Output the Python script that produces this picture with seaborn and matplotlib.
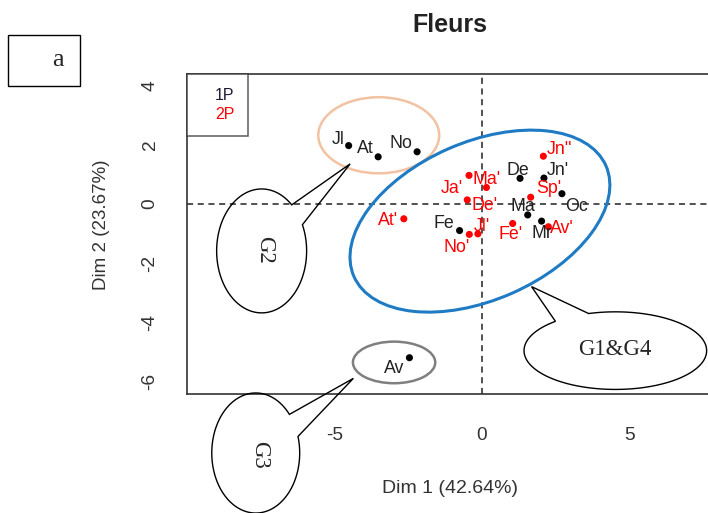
import numpy as np
import pandas as pd
import matplotlib
matplotlib.use("Agg")
import matplotlib.pyplot as plt
import seaborn as sns
from matplotlib.patches import Ellipse, Polygon, Rectangle
from matplotlib.lines import Line2D

# ---------------- data ----------------
labels_1p = ["Jl", "At", "No", "De", "Jn'", "Oc", "Ma", "Mr", "Fe", "Av"]
dim1_1p = [-4.52, -3.52, -2.20, 1.29, 2.10, 2.71, 1.55, 2.02, -0.76, -2.46]
dim2_1p = [1.98, 1.60, 1.77, 0.87, 0.88, 0.35, -0.37, -0.58, -0.90, -5.21]

labels_2p = ["Jn''", "Ma'", "Ja'", "De'", "Sp'", "At'", "Fe'", "Av'", "No'", "Jl'"]
dim1_2p = [2.08, 0.15, -0.44, -0.50, 1.65, -2.65, 1.04, 2.25, -0.43, -0.14]
dim2_2p = [1.62, 0.56, 0.97, 0.14, 0.23, -0.50, -0.66, -0.77, -1.03, -1.01]

groups = ["1P", "2P"]
x_ticks = [-5, 0, 5]
y_ticks = [-6, -4, -2, 0, 2, 4]

# label placement (offset of label centre from its point, in pixels)
LABEL_OFFSETS = {
    "Jl": (-10, 6), "At": (-13, 8), "No": (-16, 8), "De": (-2, 8),
    "Jn'": (14, 8), "Oc": (15, -13), "Ma": (-5, 8), "Mr": (0, -12),
    "Fe": (-16, 7), "Av": (-15, -11),
    "Jn''": (16, 7), "Ma'": (0, 8), "Ja'": (-17, -13), "De'": (17, -6),
    "Sp'": (18, 9), "At'": (-16, -2), "Fe'": (-2, -11), "Av'": (13, -2),
    "No'": (-13, -13), "Jl'": (4, 7),
}

df = pd.DataFrame({
    "dim1": dim1_1p + dim1_2p,
    "dim2": dim2_1p + dim2_2p,
    "label": labels_1p + labels_2p,
    "group": [groups[0]] * len(labels_1p) + [groups[1]] * len(labels_2p),
})
palette = {"1P": "black", "2P": "#ff0000"}

# ---------------- style ----------------
sns.set_style("white")
plt.rcParams["font.family"] = ["Liberation Sans", "DejaVu Sans"]

W, H = 708, 513
fig = plt.figure(figsize=(W / 100, H / 100), dpi=100)
ax = fig.add_axes([187 / W, (H - 394) / H, (711 - 187) / W, 320 / H])

ax.set_xlim(-10.0, 7.763)
ax.set_ylim(-6.44, 4.407)

# reference lines
ax.axhline(0, color="#222222", lw=1.1, ls=(0, (4, 3)), zorder=1)
ax.axvline(0, color="#222222", lw=1.1, ls=(0, (4, 3)), zorder=1)

sns.scatterplot(data=df, x="dim1", y="dim2", hue="group", palette=palette,
                s=26, linewidth=0, legend=False, ax=ax, zorder=4)

for _, r in df.iterrows():
    dx, dy = LABEL_OFFSETS[r["label"]]
    ax.annotate(r["label"], (r["dim1"], r["dim2"]), xytext=(dx, dy),
                textcoords="offset pixels", ha="center", va="center",
                fontsize=12.8, color=palette[r["group"]] if r["group"] == "2P" else "#222222",
                zorder=5)

# group ellipses
ax.add_patch(Ellipse((-3.50, 2.33), 4.10, 2.58, fill=False, ec="#f2c2a2", lw=1.8, zorder=2))
ax.add_patch(Ellipse((-0.07, -0.58), 9.33, 5.35, angle=23.7, fill=False, ec="#1f7bc4", lw=2.2, zorder=2))
ax.add_patch(Ellipse((-2.98, -5.37), 2.79, 1.41, fill=False, ec="#7f7f7f", lw=1.8, zorder=2))


def callout(cx, cy, w, h, gap_a, gap_b, tip):
    t = np.radians(np.linspace(gap_b, gap_a + 360, 240))
    pts = np.column_stack([cx + w / 2 * np.cos(t), cy + h / 2 * np.sin(t)])
    pts = np.vstack([pts, tip])
    ax.add_patch(Polygon(pts, closed=True, fill=False, ec="black", lw=1.0,
                         clip_on=False, zorder=6))


callout(-7.47, -1.59, 3.05, 4.20, 25, 48, (-4.47, 1.36))
callout(-7.67, -8.44, 2.98, 4.07, 16, 40, (-4.36, -5.91))
callout(4.52, -4.97, 6.19, 2.63, 107, 131, (1.68, -2.80))

serif = ["Liberation Serif", "DejaVu Serif"]
ax.text(-7.36, -1.56, "G2", rotation=270, ha="center", va="center",
        fontsize=16.5, family=serif, clip_on=False, zorder=6)
ax.text(-7.53, -8.51, "G3", rotation=270, ha="center", va="center",
        fontsize=16.5, family=serif, clip_on=False, zorder=6)
ax.text(4.51, -4.92, "G1&G4", ha="center", va="center",
        fontsize=16.5, family=serif, clip_on=False, zorder=6)

# axes, ticks
ax.set_xticks(x_ticks)
ax.set_yticks(y_ticks)
ax.set_xticklabels([str(v) for v in x_ticks])
ax.set_yticklabels([str(v) for v in y_ticks], rotation=90, va="center")
ax.tick_params(axis="both", direction="out", length=8.5, width=1.1,
               color="#333333", labelsize=13.8, labelcolor="#333333")
ax.tick_params(axis="x", pad=15)
ax.tick_params(axis="y", pad=12)
for s in ax.spines.values():
    s.set_color("#333333")
    s.set_linewidth(1.2)

ax.set_xlabel("Dim 1 (42.64%)", fontsize=14, color="#333333", va="center")
ax.xaxis.set_label_coords(0.502, -0.295)
ax.set_ylabel("Dim 2 (23.67%)", fontsize=13.5, color="#333333", va="center")
ax.yaxis.set_label_coords(-0.163, 0.53)

# legend
handles = [Line2D([], [], linestyle="none") for _ in groups]
leg = ax.legend(handles, groups, loc="upper left", frameon=True, fancybox=False,
                edgecolor="#333333", borderaxespad=0, handlelength=0.7,
                handletextpad=0.2, borderpad=0.85, labelspacing=0.3,
                fontsize=11.5, labelcolor=["#1a1a33", "#ff0000"])
leg.get_frame().set_linewidth(1.1)

# title
fig.text(450 / W, 1 - 25 / H, "Fleurs", ha="center", va="center",
         fontsize=18, fontweight="bold", color="#222222")

# panel tag "a"
fig.add_artist(Rectangle((8 / W, (H - 86) / H), 72 / W, 51 / H, fill=False,
                         ec="black", lw=1.0, transform=fig.transFigure))
fig.text(58 / W, 1 - 60 / H, "a", ha="center", va="center", fontsize=19,
         family=serif)

fig.savefig("out.png", dpi=100, facecolor="white")
